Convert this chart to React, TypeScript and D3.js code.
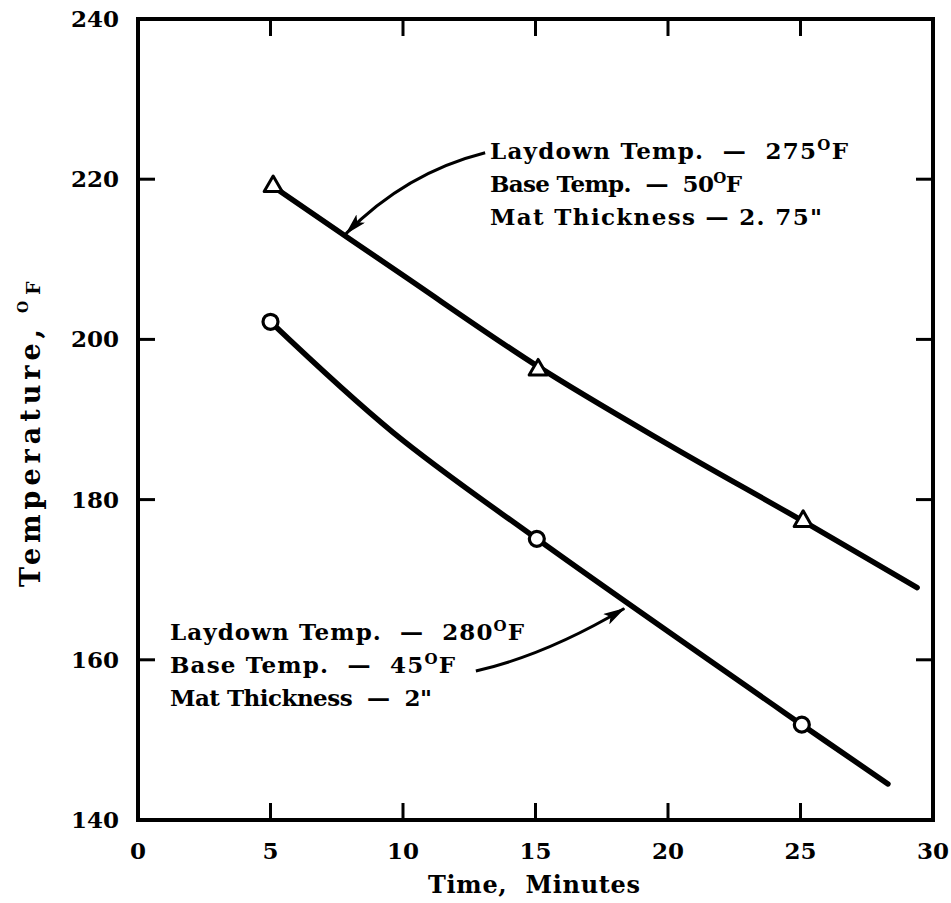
import React from 'react';
import * as d3 from 'd3';

// axis ticks
const timeTicks = [0, 5, 10, 15, 20, 25, 30];
const tempTicks = [140, 160, 180, 200, 220, 240];

// measured points (triangles: 2.75" mat, circles: 2" mat)
const triangleTimes = [5.1, 15.1, 25.1];
const triangleTemps = [219.1, 196.2, 177.3];
const circleTimes = [5.0, 15.05, 25.05];
const circleTemps = [202.2, 175.1, 151.9];

// fitted curves
const upperCurveTimes = [5.1, 10, 15.1, 20, 25.1, 29.4];
const upperCurveTemps = [219.1, 208.0, 196.6, 186.9, 177.3, 169.0];
const lowerCurveTimes = [5.0, 9.62, 15.05, 25.05, 28.3];
const lowerCurveTemps = [202.2, 188.4, 175.1, 151.9, 144.5];

// annotation text: [before superscript, after superscript]
const upperNote = [
  ['Laydown Temp.  \u2014  275', 'F'],
  ['Base Temp.  \u2014  50', 'F'],
  ['Mat Thickness \u2014 2. 75"', ''],
];
const lowerNote = [
  ['Laydown Temp.  \u2014  280', 'F'],
  ['Base Temp.  \u2014  45', 'F'],
  ['Mat Thickness  \u2014  2"', ''],
];

// layout: printed width of each note line
const upperWidths = [358, 252, 332];
const lowerWidths = [354, 285, 262];

const W = 951;
const H = 903;
const FONT = '"DejaVu Serif", "Liberation Serif", serif';

export default function App() {
  const x = d3.scaleLinear().domain([0, 30]).range([138, 933]);
  const y = d3.scaleLinear().domain([140, 240]).range([820, 19]);
  const tickLen = 17;

  const line = d3
    .line<[number, number]>()
    .x((d) => x(d[0]))
    .y((d) => y(d[1]))
    .curve(d3.curveCatmullRom.alpha(0.5));

  const upper = upperCurveTimes.map((t, i) => [t, upperCurveTemps[i]] as [number, number]);
  const lower = lowerCurveTimes.map((t, i) => [t, lowerCurveTemps[i]] as [number, number]);

  // arrows, in data units: start, control, tip
  const arrowPath = (p: number[][]) => {
    const path = d3.path();
    path.moveTo(x(p[0][0]), y(p[0][1]));
    path.quadraticCurveTo(x(p[1][0]), y(p[1][1]), x(p[2][0]), y(p[2][1]));
    return path.toString();
  };
  const upperArrow = [[13.1, 223.3], [10.1, 220.8], [7.85, 213.2]];
  const lowerArrow = [[12.75, 158.6], [15.4, 160.6], [18.35, 166.4]];

  const innerTicksX = timeTicks.slice(1, -1);
  const innerTicksY = tempTicks.slice(1, -1);

  const triPath = (cx: number, cy: number) => {
    const s = 18;
    const h = (s * Math.sqrt(3)) / 2;
    return `M${cx},${cy - (2 * h) / 3}L${cx + s / 2},${cy + h / 3}L${cx - s / 2},${cy + h / 3}Z`;
  };

  const noteBlock = (lines: string[][], widths: number[], x0: number, y0: number) => (
    <g fontFamily={FONT} fontWeight="bold" fontSize={23} fill="#000">
      {lines.map((l, i) => (
        <text
          key={i}
          x={x0}
          y={y0 + i * 33}
          textLength={widths[i]}
          lengthAdjust="spacing"
          style={{ whiteSpace: 'pre' }}
        >
          {l[0]}
          {l[1] && (
            <>
              <tspan fontSize={15} dy={-9}>O</tspan>
              <tspan dy={9}>{l[1]}</tspan>
            </>
          )}
        </text>
      ))}
    </g>
  );

  return (
    <svg
      width={W}
      height={H}
      style={{ position: 'absolute', left: 0, top: 0, background: '#fff' }}
    >
      <defs>
        <marker id="head" viewBox="0 0 22 12" refX="21" refY="6" markerWidth="22" markerHeight="12" markerUnits="userSpaceOnUse" orient="auto">
          <path d="M0,0L22,6L0,12L5,6Z" fill="#000" />
        </marker>
      </defs>

      {/* frame */}
      <rect
        x={x(0)}
        y={y(240)}
        width={x(30) - x(0)}
        height={y(140) - y(240)}
        fill="none"
        stroke="#000"
        strokeWidth={4}
      />

      {/* inward ticks on all sides */}
      <g stroke="#000" strokeWidth={3}>
        {innerTicksX.map((t) => (
          <g key={t}>
            <line x1={x(t)} x2={x(t)} y1={y(140)} y2={y(140) - tickLen} />
            <line x1={x(t)} x2={x(t)} y1={y(240)} y2={y(240) + tickLen} />
          </g>
        ))}
        {innerTicksY.map((t) => (
          <g key={t}>
            <line x1={x(0)} x2={x(0) + tickLen} y1={y(t)} y2={y(t)} />
            <line x1={x(30)} x2={x(30) - tickLen} y1={y(t)} y2={y(t)} />
          </g>
        ))}
      </g>

      {/* tick labels and axis titles */}
      <g fontFamily={FONT} fontWeight="bold" fontSize={23} fill="#000">
        {timeTicks.map((t) => (
          <text key={t} x={x(t)} y={859} textAnchor="middle">
            {t}
          </text>
        ))}
        {tempTicks.map((t) => (
          <text key={t} x={119} y={y(t) + 8} textAnchor="end">
            {t}
          </text>
        ))}
        <text
          x={428}
          y={893}
          fontSize={24}
          textLength={212}
          lengthAdjust="spacing"
          style={{ whiteSpace: 'pre' }}
        >
          Time,  Minutes
        </text>
        <g transform="translate(40,587) rotate(-90)">
          <text x={0} y={0} fontSize={27} textLength={258} lengthAdjust="spacing">
            Temperature,
          </text>
          <text x={274} y={-12} fontSize={14}>O</text>
          <text x={292} y={0} fontSize={19}>F</text>
        </g>
      </g>

      {/* curves */}
      <path d={line(upper) || ''} fill="none" stroke="#000" strokeWidth={5.5} strokeLinecap="round" />
      <path d={line(lower) || ''} fill="none" stroke="#000" strokeWidth={5.5} strokeLinecap="round" />

      {/* markers */}
      {triangleTimes.map((t, i) => (
        <path key={i} d={triPath(x(t), y(triangleTemps[i]))} fill="#fff" stroke="#000" strokeWidth={3} strokeLinejoin="round" />
      ))}
      {circleTimes.map((t, i) => (
        <circle key={i} cx={x(t)} cy={y(circleTemps[i])} r={7.5} fill="#fff" stroke="#000" strokeWidth={3.2} />
      ))}

      {/* annotations */}
      <path d={arrowPath(upperArrow)} fill="none" stroke="#000" strokeWidth={3} markerEnd="url(#head)" />
      <path d={arrowPath(lowerArrow)} fill="none" stroke="#000" strokeWidth={3} markerEnd="url(#head)" />
      {noteBlock(upperNote, upperWidths, 490, 159)}
      {noteBlock(lowerNote, lowerWidths, 170, 640)}
    </svg>
  );
}
